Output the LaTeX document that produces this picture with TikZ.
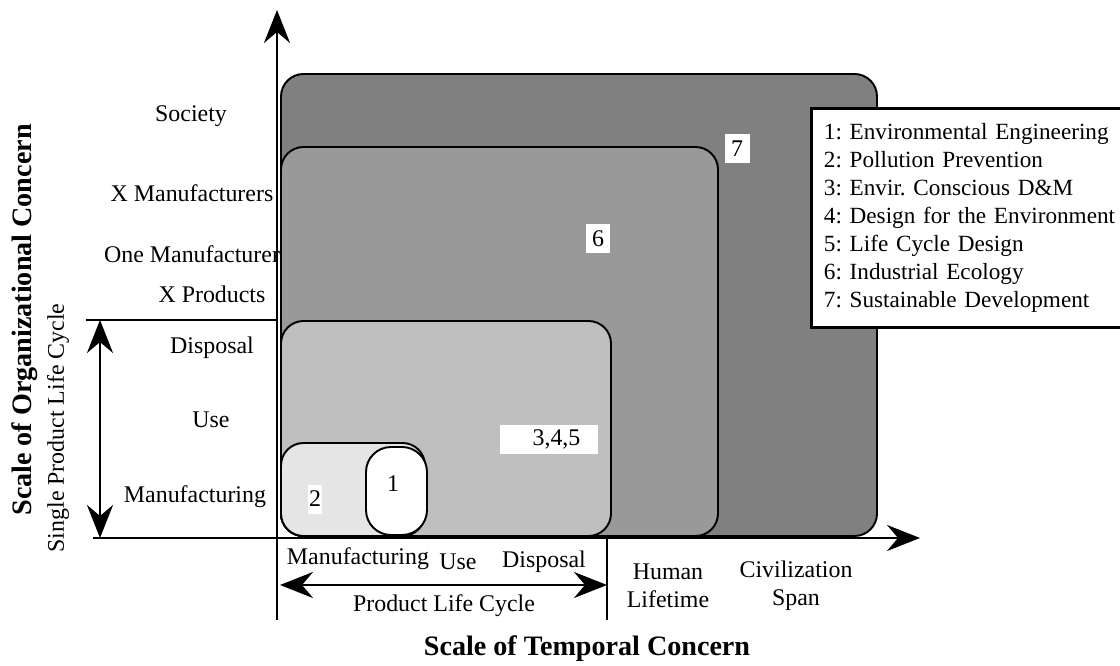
\documentclass[tikz,border=0pt]{standalone}
\usepackage{fontspec}
\setmainfont{Liberation Serif}
\usetikzlibrary{arrows.meta,positioning}
\frenchspacing

\begin{document}
\begin{tikzpicture}[
    lbl/.style={font=\fontsize{13.6}{16}\selectfont, inner sep=1pt, align=center},
    title/.style={font=\fontsize{16}{19}\selectfont\bfseries, inner sep=0pt},
    tag/.style={fill=white, font=\fontsize{13.6}{16}\selectfont, inner sep=0pt, minimum height=0.58cm},
    zone/.style={draw, line width=1.1pt, rounded corners=0.45cm},
    axis/.style={line width=1.6pt},
    arrow/.style={-{Stealth[length=0.66cm,width=0.52cm,inset=0.22cm]}, line width=1.6pt},
    darrow/.style={{Stealth[length=0.66cm,width=0.52cm,inset=0.22cm]}-{Stealth[length=0.66cm,width=0.52cm,inset=0.22cm]}, line width=1.6pt}
]
\useasboundingbox (0,0) rectangle (22.4,13.3);

% organizational scale
\node[lbl] (society) at (3.82,10.98) {Society};
\node[lbl] (xman)    at (3.84,9.44)  {X Manufacturers};
\node[lbl, anchor=west] (oneman) at (2.04,8.22) {One Manufacturer};
\node[lbl] (xprod)   at (4.24,7.42)  {X Products};
\node[lbl] (ydisp)   at (4.24,6.34)  {Disposal};
\node[lbl] (yuse)    at (4.22,4.90)  {Use};
\node[lbl] (yman)    at (3.90,3.36)  {Manufacturing};

% nested zones
\draw[zone, fill=black!50] (5.62,2.58) rectangle (17.54,11.82);
\draw[zone, fill=black!40] (5.62,2.58) rectangle (14.36,10.36);
\draw[zone, fill=black!25] (5.62,2.58) rectangle (12.22,6.88);
\draw[zone, fill=black!10] (5.62,2.58) rectangle (8.50,4.44);
\draw[zone, fill=white, rounded corners=0.5cm] (7.32,2.60) rectangle (8.54,4.36);

\node[tag, minimum width=0.50cm] (t7)   at (14.74,10.32) {7};
\node[tag, minimum width=0.48cm] (t6)   at (11.96,8.52)  {6};
\node[tag, minimum width=1.96cm] (t345) at (10.98,4.52)  {\hspace{0.3cm}3,4,5};
\node[tag, minimum width=0.28cm] (t2)   at (6.30,3.32)   {2};
\node[lbl] (t1) at (7.86,3.62) {1};

% axes
\coordinate (origin) at (5.54,2.54);
\coordinate (ytop)   at (5.54,13.1);
\coordinate (ybot)   at (5.54,0.9);
\coordinate (xleft)  at (1.86,2.54);
\coordinate (xend)   at (18.4,2.54);
\coordinate (plcl)   at (1.72,6.9);
\coordinate (plcr)   at (5.54,6.9);
\coordinate (plctop) at (2.0,6.9);
\coordinate (plcbot) at (2.0,2.54);
\coordinate (lcl)    at (5.60,1.6);
\coordinate (lcr)    at (12.14,1.6);
\coordinate (ticktop) at (12.14,2.54);
\coordinate (tickbot) at (12.14,0.9);

\draw[arrow]  (ybot) -- (ytop);
\draw[arrow]  (xleft) -- (xend);
\draw[axis]   (plcl) -- (plcr);
\draw[darrow] (plctop) -- (plcbot);
\draw[darrow] (lcl) -- (lcr);
\draw[axis]   (ticktop) -- (tickbot);

% temporal scale
\node[lbl] (xman2)  at (7.16,2.12)  {Manufacturing};
\node[lbl] (xuse)   at (9.16,2.06)  {Use};
\node[lbl] (xdisp)  at (10.88,2.06) {Disposal};
\node[lbl] (plc)    at (8.88,1.18)  {Product Life Cycle};
\node[lbl] (human)  at (13.36,1.58) {Human\\Lifetime};
\node[lbl] (civil)  at (15.92,1.58) {Civilization\\Span};

\node[title] (xtitle) at (11.74,0.32) {Scale of Temporal Concern};
\node[title, rotate=90] (ytitle) at (0.50,6.9) {Scale of Organizational Concern};
\node[lbl, rotate=90] (single) at (1.16,4.74) {Single Product Life Cycle};

% legend
\begin{scope}
\clip (0,0) rectangle (22.4,13.3);
\node[draw, fill=white, line width=1.6pt, anchor=north west, minimum width=6.6cm, minimum height=4.38cm,
      inner xsep=0.22cm, text width=6.1cm, align=left, font=\fontsize{13.2}{15.9}\selectfont] (legend) at (16.2,11.16)
  {1: Environmental Engineering\\
   2: Pollution Prevention\\
   3: Envir. Conscious D\&M\\
   4: Design for the Environment\\
   5: Life Cycle Design\\
   6: Industrial Ecology\\
   7: Sustainable Development};
\end{scope}
\end{tikzpicture}
\end{document}
